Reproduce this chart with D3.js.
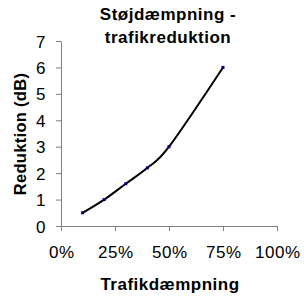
<!DOCTYPE html>
<html><head><meta charset="utf-8">
<script src="https://cdn.jsdelivr.net/npm/d3@7"></script>
<style>body{margin:0;background:#fff}svg{display:block}</style>
</head><body>
<script>
const xValues = [10, 20, 30, 40, 50, 75];
const yValues = [0.5, 1.0, 1.6, 2.2, 3.0, 6.0];
const xTicks = [0, 25, 50, 75, 100];
const yTicks = [0, 1, 2, 3, 4, 5, 6, 7];
const titleLines = ["Støjdæmpning -", "trafikreduktion"];
const xTitle = "Trafikdæmpning";
const yTitle = "Reduktion (dB)";

const W = 304, H = 298;
const svg = d3.select("body").append("svg").attr("width", W).attr("height", H);
const font = "Liberation Sans, Arial, sans-serif";
const x = d3.scaleLinear().domain([0, 100]).range([61, 277]);
const y = d3.scaleLinear().domain([0, 7]).range([226, 41]);

const xAxis = svg.append("g").attr("transform", "translate(0,226)")
  .call(d3.axisBottom(x).tickValues(xTicks).tickSize(5).tickSizeOuter(0).tickFormat(d => d + "%"));
const yAxis = svg.append("g").attr("transform", "translate(61,0)")
  .call(d3.axisLeft(y).tickValues(yTicks).tickSize(5).tickSizeOuter(0).tickFormat(d3.format("d")));
[xAxis, yAxis].forEach(g => {
  g.selectAll("path,line").attr("stroke", "#808080").attr("stroke-width", 1);
  g.selectAll("text").attr("fill", "#000").style("font-family", font).style("font-size", "17px").style("letter-spacing", "0.5px");
});
xAxis.selectAll("text").attr("y", 0).attr("dy", null).attr("transform", "translate(0.3,32)");
yAxis.selectAll("text").attr("x", -15).attr("dy", "0.36em");

const line = d3.line().x((d, i) => x(xValues[i])).y(d => y(d)).curve(d3.curveCatmullRom.alpha(0));
svg.append("path").datum(yValues).attr("d", line).attr("fill", "none").attr("stroke", "#000").attr("stroke-width", 2);
svg.selectAll("rect.m").data(yValues).enter().append("rect").attr("class", "m")
  .attr("x", (d, i) => x(xValues[i]) - 1.5).attr("y", d => y(d) - 1.5).attr("width", 3).attr("height", 3).attr("fill", "#000080");

svg.selectAll("text.title").data(titleLines).enter().append("text").attr("class", "title")
  .attr("x", 168).attr("y", (d, i) => 20 + i * 23).attr("text-anchor", "middle")
  .style("font-family", font).style("font-size", "17px").style("font-weight", "bold").style("letter-spacing", "0.5px").text(d => d);
svg.append("text").attr("x", 170).attr("y", 290).attr("text-anchor", "middle")
  .style("font-family", font).style("font-size", "17px").style("font-weight", "bold").style("letter-spacing", "0.5px").text(xTitle);
svg.append("text").attr("transform", "translate(26,134) rotate(-90)").attr("text-anchor", "middle")
  .style("font-family", font).style("font-size", "16.5px").style("font-weight", "bold").style("letter-spacing", "0.3px").text(yTitle);
</script>
</body></html>
